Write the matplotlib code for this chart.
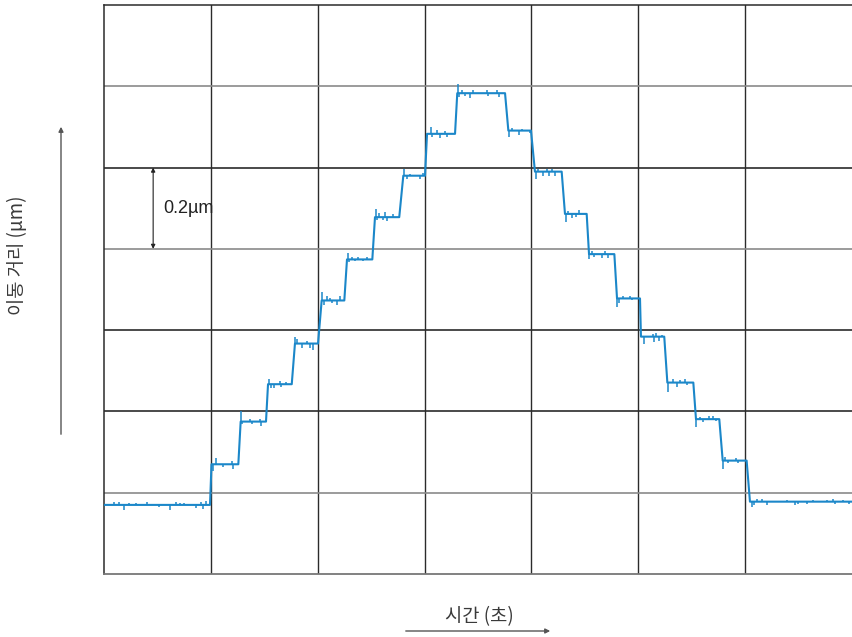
import matplotlib
matplotlib.use("Agg")
import matplotlib.pyplot as plt

# step levels of the trace: height (um), flat part start / end (grid columns)
level_um = [0.170, 0.270, 0.375, 0.467, 0.567, 0.673, 0.774, 0.878, 0.980, 1.083,
            1.183, 1.091, 0.990, 0.886, 0.787, 0.678, 0.584, 0.471, 0.381, 0.279, 0.178]
level_start = [0.000, 1.006, 1.279, 1.535, 1.787, 2.037, 2.274, 2.536, 2.801, 3.023,
               3.306, 3.784, 4.033, 4.314, 4.539, 4.801, 5.025, 5.272, 5.540, 5.790, 6.045]
level_end = [0.992, 1.257, 1.516, 1.757, 2.003, 2.249, 2.511, 2.763, 3.004, 3.285,
             3.753, 3.996, 4.283, 4.517, 4.776, 5.016, 5.243, 5.515, 5.758, 6.014, 7.000]

# small glitches riding on each level: position and excursion (um)
spike_x = [0.094, 0.140, 0.187, 0.234, 0.299, 0.402, 0.515, 0.618, 0.674, 0.711, 0.749, 0.861, 0.908, 0.926, 0.954,
           1.020, 1.045, 1.114, 1.198, 1.207,
           1.282, 1.291, 1.366, 1.382, 1.460, 1.469,
           1.544, 1.560, 1.591, 1.647, 1.656, 1.703,
           1.792, 1.806, 1.856, 1.897, 1.928, 1.953,
           2.043, 2.059, 2.084, 2.115, 2.131, 2.178, 2.208,
           2.279, 2.295, 2.318, 2.349, 2.380, 2.427, 2.464,
           2.541, 2.552, 2.573, 2.614, 2.630, 2.651, 2.702,
           2.807, 2.833, 2.864, 2.957, 2.988,
           3.057, 3.072, 3.113, 3.144, 3.191, 3.207,
           3.311, 3.325, 3.347, 3.378, 3.425, 3.456, 3.581, 3.589, 3.681, 3.699,
           3.790, 3.815, 3.884, 3.909, 3.987,
           4.043, 4.064, 4.111, 4.143, 4.164, 4.190, 4.221,
           4.319, 4.339, 4.377, 4.414, 4.445,
           4.543, 4.564, 4.588, 4.657, 4.688, 4.714,
           4.804, 4.820, 4.860, 4.922, 4.938,
           5.053, 5.140, 5.147, 5.166, 5.197, 5.219,
           5.275, 5.328, 5.359, 5.390, 5.437, 5.459,
           5.543, 5.578, 5.609, 5.665, 5.702, 5.728,
           5.792, 5.811, 5.842, 5.914, 5.936,
           6.061, 6.083, 6.114, 6.155, 6.202, 6.389, 6.467, 6.497, 6.576, 6.638, 6.763, 6.825, 6.841, 6.919, 6.975]
spike_dy = [0.007, 0.007, -0.012, 0.005, 0.005, 0.007, -0.005, -0.012, 0.007, 0.005, 0.005, -0.007, 0.007, -0.010, 0.010,
            -0.017, 0.015, -0.007, 0.007, -0.012,
            0.025, -0.007, 0.007, -0.007, 0.007, -0.010,
            0.012, -0.010, -0.010, 0.007, -0.007, 0.005,
            0.017, 0.012, -0.010, 0.007, -0.010, -0.017,
            0.020, -0.010, 0.010, 0.007, -0.007, -0.010, 0.010,
            0.015, -0.007, 0.005, -0.005, 0.005, -0.005, 0.005,
            0.020, -0.007, 0.010, -0.007, 0.012, -0.010, 0.007,
            0.017, -0.007, 0.005, -0.007, 0.007,
            0.017, -0.007, 0.010, -0.010, 0.007, -0.007,
            0.022, -0.010, 0.007, -0.007, -0.012, 0.007, 0.007, -0.007, 0.007, -0.010,
            -0.015, 0.007, -0.010, 0.005, -0.007,
            -0.017, 0.007, -0.010, 0.007, -0.010, 0.007, -0.010,
            -0.020, 0.007, -0.010, -0.007, 0.010,
            -0.012, 0.007, -0.007, -0.010, 0.007, -0.010,
            -0.020, -0.010, 0.007, 0.007, -0.005,
            -0.017, 0.007, -0.012, 0.010, -0.010, 0.005,
            -0.022, 0.010, -0.010, 0.007, 0.010, -0.005,
            -0.020, 0.005, -0.007, 0.007, 0.007, -0.005,
            -0.020, 0.010, -0.007, 0.007, -0.007,
            -0.012, -0.007, 0.007, 0.007, -0.007, 0.005, -0.007, -0.005, -0.005, 0.005, 0.005, 0.007, -0.005, 0.005, -0.005]

col_lines = [1, 2, 3, 4, 5, 6]
row_lines = [0.2, 0.4, 0.6, 0.8, 1.0, 1.2]
row_colors = ["#8a8a8a", "#2b2b2b", "#2b2b2b", "#8a8a8a", "#2b2b2b", "#8a8a8a"]

KR = ["Noto Sans CJK KR", "DejaVu Sans"]
TRACE = "#1b87c9"

# step trace (flat levels joined by slanted transitions)
xs, ys = [], []
for y, s, e in zip(level_um, level_start, level_end):
    xs += [s, e]
    ys += [y, y]

# glitch ticks, each sitting on the level it belongs to
gx, g0, g1 = [], [], []
for y, s, e in zip(level_um, level_start, level_end):
    for sx, sd in zip(spike_x, spike_dy):
        if s <= sx <= e:
            gx.append(sx); g0.append(y); g1.append(y + sd)

fig = plt.figure(figsize=(8.52, 6.37), dpi=100)
ax = fig.add_axes([104 / 852, 63 / 637, 748 / 852, 569 / 637])
ax.set_xlim(0, 7)
ax.set_ylim(0, 1.4)

for c in col_lines:
    ax.axvline(c, color="#2b2b2b", lw=1.0, zorder=1)
for r, col in zip(row_lines, row_colors):
    ax.axhline(r, color=col, lw=1.2, zorder=1)

ax.plot(xs, ys, color=TRACE, lw=1.5, zorder=3)
ax.vlines(gx, g0, g1, color=TRACE, lw=1.1, zorder=3)

ax.set_xticks([]); ax.set_yticks([])
for side in ("left", "top"):
    ax.spines[side].set_color("#2b2b2b")
    ax.spines[side].set_linewidth(1.1)
ax.spines["bottom"].set_color("#777777")
ax.spines["bottom"].set_linewidth(1.3)
ax.spines["right"].set_visible(False)

# 0.2 um scale marker
ax.annotate("", xy=(0.46, 1.0), xytext=(0.46, 0.8),
            arrowprops=dict(arrowstyle="<|-|>", color="#222222", lw=0.8,
                            mutation_scale=6, shrinkA=0, shrinkB=0))
ax.text(0.555, 0.9, "0.2µm", fontsize=13, family="Liberation Sans",
        color="#222222", ha="left", va="center")

# axis labels with arrows
fig.text(18 / 852, 1 - 255 / 637, "이동 거리 (µm)", rotation=90, fontsize=13.5,
         family=KR, color="#3a3a3a", ha="center", va="center")
fig.patches.append(matplotlib.patches.FancyArrowPatch(
    (61 / 852, 1 - 437 / 637), (61 / 852, 1 - 124 / 637), transform=fig.transFigure,
    arrowstyle="-|>", mutation_scale=7, color="#555555", lw=1.0))

fig.text(479 / 852, 1 - 617 / 637, "시간 (초)", fontsize=13.5,
         family=KR, color="#3a3a3a", ha="center", va="center")
fig.patches.append(matplotlib.patches.FancyArrowPatch(
    (403 / 852, 1 - 631 / 637), (553 / 852, 1 - 631 / 637), transform=fig.transFigure,
    arrowstyle="-|>", mutation_scale=7, color="#555555", lw=1.0))

fig.savefig("out.png", dpi=100)
